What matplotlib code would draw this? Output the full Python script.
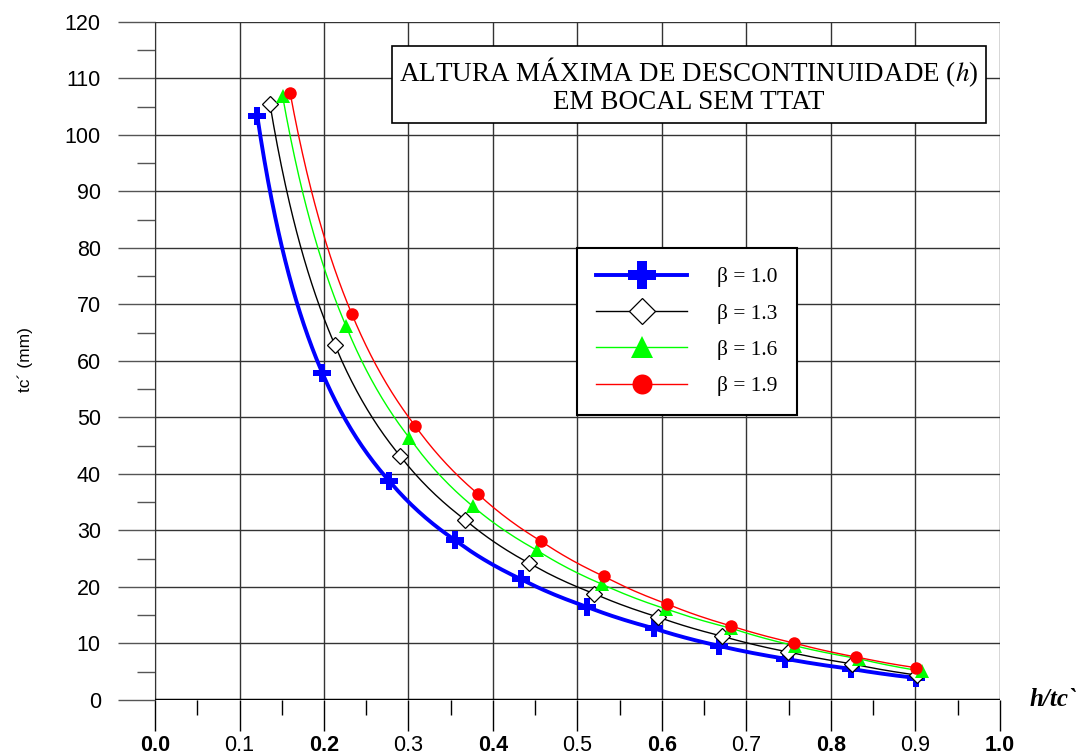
import matplotlib.pyplot as plt
import numpy as np

plt.rcParams['mathtext.fontset'] = 'stix'

# h/tc` (x) e tc` em mm (y)
x_b10 = [0.121, 0.198, 0.277, 0.355, 0.433, 0.511, 0.590, 0.667, 0.746, 0.824, 0.901]
y_b10 = [103.4, 57.9, 38.8, 28.3, 21.4, 16.5, 12.7, 9.6, 7.3, 5.5, 3.9]

x_b13 = [0.136, 0.213, 0.290, 0.367, 0.443, 0.520, 0.595, 0.671, 0.749, 0.825, 0.902]
y_b13 = [105.5, 62.8, 43.2, 31.9, 24.2, 18.8, 14.7, 11.3, 8.5, 6.4, 4.4]

x_b16 = [0.151, 0.226, 0.301, 0.376, 0.452, 0.529, 0.605, 0.682, 0.757, 0.833, 0.908]
y_b16 = [106.9, 66.2, 46.4, 34.3, 26.5, 20.5, 16.1, 12.7, 9.6, 7.3, 5.1]

x_b19 = [0.160, 0.233, 0.308, 0.382, 0.457, 0.531, 0.606, 0.682, 0.756, 0.830, 0.901]
y_b19 = [107.4, 68.3, 48.5, 36.5, 28.1, 21.9, 17.0, 13.1, 10.1, 7.6, 5.7]

x_ticks = [0.0, 0.1, 0.2, 0.3, 0.4, 0.5, 0.6, 0.7, 0.8, 0.9, 1.0]
x_labels = ['0.0', '0.1', '0.2', '0.3', '0.4', '0.5', '0.6', '0.7', '0.8', '0.9', '1.0']
y_ticks = list(range(0, 130, 10))


def curva(xs, ys):
    # traco suave entre os pontos (segmentos em escala log-log)
    lx, ly = np.log(xs), np.log(ys)
    t = np.linspace(lx[0], lx[-1], 300)
    return np.exp(t), np.exp(np.interp(t, lx, ly))


fig = plt.figure(figsize=(10.78, 7.56), dpi=100)
ax = fig.add_axes([0.1438, 0.0741, 0.7838, 0.8968])

series = [
    (x_b10, y_b10, '#0000ff', 2.8, 'P', 13, '#0000ff', 'β = 1.0'),
    (x_b13, y_b13, 'black', 1.0, 'D', 8, 'white', 'β = 1.3'),
    (x_b16, y_b16, '#00ff00', 1.0, '^', 10, '#00ff00', 'β = 1.6'),
    (x_b19, y_b19, '#ff0000', 1.0, 'o', 9, '#ff0000', 'β = 1.9'),
]
handles = []
for xs, ys, cor, lw, mk, ms, face, nome in series:
    cx, cy = curva(xs, ys)
    ax.plot(cx, cy, color=cor, lw=lw, zorder=3)
    ax.plot(xs, ys, ls='none', marker=mk, ms=ms, mfc=face, mec=cor,
            mew=0.9 if mk == 'D' else 0, zorder=4)
    h, = ax.plot([], [], color=cor, lw=lw, marker=mk, mfc=face, mec=cor,
                 ms=ms * 1.6, mew=0.9 if mk == 'D' else 0, label=nome)
    handles.append(h)

ax.set_xlim(0, 1.0)
ax.set_ylim(0, 120)
ax.set_xticks(x_ticks)
ax.set_xticks(np.arange(0.05, 1.0, 0.1), minor=True)
ax.set_yticks(y_ticks)
ax.set_yticks(np.arange(5, 120, 10), minor=True)
ax.set_xticklabels(x_labels, fontfamily='Liberation Sans', fontsize=15.5)
for i, lab in enumerate(ax.get_xticklabels()):
    lab.set_fontweight('bold' if i % 2 == 0 else 'normal')
ax.set_yticklabels([str(v) for v in y_ticks], fontfamily='Liberation Sans', fontsize=15.5)

ax.grid(True, color='#333333', lw=1.0)
for s in ['top', 'right', 'bottom']:
    ax.spines[s].set_visible(False)
ax.spines['left'].set_color('#333333')
ax.axhline(0, color='black', lw=2.5, zorder=5)
ax.tick_params(axis='y', which='major', length=27, width=1, color='#555555', pad=12)
ax.tick_params(axis='y', which='minor', length=13, width=1, color='#555555')
ax.tick_params(axis='x', which='major', length=22, width=1, color='black', pad=3)
ax.tick_params(axis='x', which='minor', length=11, width=1, color='black')

fig.text(25 / 1078, 1 - 360 / 756, 'tc´ (mm)', fontfamily='Liberation Sans', fontsize=12.5,
         rotation=90, ha='center', va='center')
ax.text(1.035, 0, 'h/tc`', transform=ax.get_yaxis_transform(), fontfamily='Liberation Serif',
        fontsize=18, fontweight='bold', fontstyle='italic', va='center', ha='left', clip_on=False)

ax.text(0.632, 108.8, 'ALTURA MÁXIMA DE DESCONTINUIDADE ($h$)\nEM BOCAL SEM TTAT',
        fontfamily='Liberation Serif', fontsize=19.5, ha='center', va='center', linespacing=1.05,
        zorder=6, bbox=dict(boxstyle='square,pad=0.28', fc='white', ec='black', lw=1.2))

leg = ax.legend(handles=handles, loc='upper left', bbox_to_anchor=(0.4994, 0.6667),
                prop={'family': 'Liberation Serif', 'size': 15.5}, frameon=True, fancybox=False,
                edgecolor='black', framealpha=1, borderpad=0.9, labelspacing=0.75,
                handlelength=4.2, handletextpad=1.4, borderaxespad=0)
leg.get_frame().set_linewidth(1.5)
leg.set_zorder(7)

plt.savefig('out.png', dpi=100)
